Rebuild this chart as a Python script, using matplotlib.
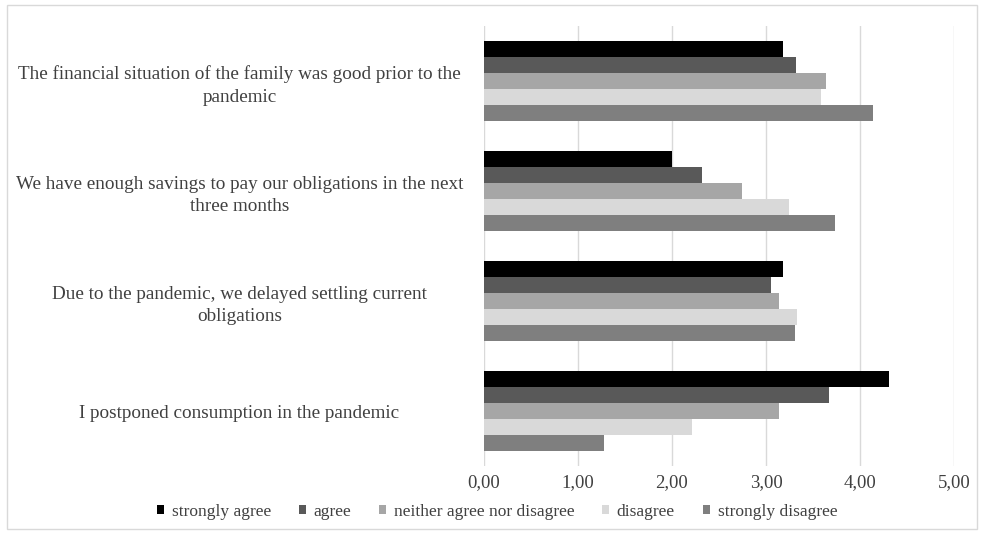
import matplotlib.pyplot as plt
import numpy as np
from matplotlib.patches import Rectangle

categories = [
    "The financial situation of the family was good prior to the\npandemic",
    "We have enough savings to pay our obligations in the next\nthree months",
    "Due to the pandemic, we delayed settling current\nobligations",
    "I postponed consumption in the pandemic",
]
series_names = ["strongly agree", "agree", "neither agree nor disagree",
                "disagree", "strongly disagree"]
strongly_agree = [3.18, 2.00, 3.18, 4.31]
agree = [3.32, 2.32, 3.05, 3.67]
neither = [3.64, 2.74, 3.14, 3.14]
disagree = [3.59, 3.24, 3.33, 2.21]
strongly_disagree = [4.14, 3.73, 3.31, 1.28]
xticks = [0, 1, 2, 3, 4, 5]
xticklabels = ["0,00", "1,00", "2,00", "3,00", "4,00", "5,00"]

series = [strongly_agree, agree, neither, disagree, strongly_disagree]
colors = ["#000000", "#595959", "#a6a6a6", "#d9d9d9", "#7f7f7f"]

plt.rcParams['font.family'] = ['Liberation Serif', 'DejaVu Serif']

fig = plt.figure(figsize=(9.82, 5.36), dpi=100)
ax = fig.add_axes([484/982, 1 - 466/536, (954 - 484)/982, (466 - 26)/536])

n = len(series)
bar_h = 0.146
y_centers = np.arange(len(categories))
for i, (vals, col, name) in enumerate(zip(series, colors, series_names)):
    offs = (i - (n - 1) / 2) * bar_h
    ax.barh(y_centers + offs, vals, height=bar_h, color=col, label=name, zorder=3)

ax.set_ylim(len(categories) - 0.5, -0.5)
ax.set_xlim(0, 5)
ax.set_xticks(xticks)
ax.set_xticklabels(xticklabels, fontsize=13.5, color="#404040")
ax.set_yticks(y_centers)
ax.set_yticklabels(categories, fontsize=13.8, color="#404040", ha="center",
                   multialignment="center", linespacing=1.4)
ax.tick_params(axis='y', length=0, pad=176)
ax.tick_params(axis='x', length=0, pad=6)
ax.grid(axis='x', color="#d9d9d9", linewidth=1, zorder=0)
for s in ax.spines.values():
    s.set_visible(False)

handles, labels = ax.get_legend_handles_labels()
leg = fig.legend(handles, labels, loc="center", bbox_to_anchor=(497/982, 1 - 512/536),
                 ncol=5, frameon=False, fontsize=12.5, handlelength=0.4,
                 handleheight=0.4, handletextpad=0.45, columnspacing=1.6)
for t in leg.get_texts():
    t.set_color("#404040")

fig.patches.append(Rectangle((7/982, 1 - 529/536), (977 - 7)/982, (529 - 5)/536,
                             transform=fig.transFigure, fill=False,
                             edgecolor="#d9d9d9", linewidth=1))

fig.savefig("out.png", dpi=100)
